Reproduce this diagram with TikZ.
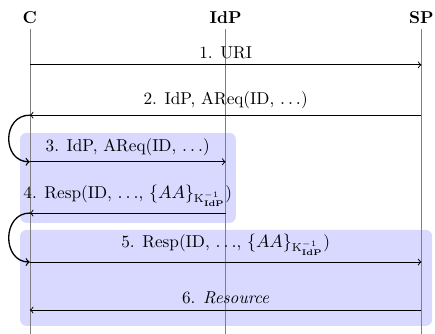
\documentclass[tikz,border=0pt]{standalone}
\usepackage{amsmath}

\tikzset{
  actor/.style={font=\bfseries},
  lifeline/.style={gray, thin},
  msg/.style={->, semithick},
  loopback/.style={->, thick},
  phase/.style={fill=blue!15, rounded corners=4pt}
}
\newcommand{\kidp}{\ensuremath{\{AA\}_{\mathrm{K}^{-1}_{\mathbf{IdP}}}}}

\begin{document}
\fontsize{10.5}{12.6}\selectfont
\begin{tikzpicture}
\useasboundingbox (-0.64,0) rectangle (8.69,-7.16);

% phases
\fill[phase] (-0.21,-2.85) rectangle (4.42,-4.78);
\fill[phase] (-0.21,-4.93) rectangle (8.63,-6.99);

% actors and lifelines
\node[actor] (C) at (0,-0.37) {C};
\node[actor] (IdP) at (4.2,-0.37) {IdP};
\node[actor] (SP) at (8.4,-0.37) {SP};
\coordinate (Cend) at (0,-7.16);
\coordinate (IdPend) at (4.2,-7.16);
\coordinate (SPend) at (8.4,-7.16);
\draw[lifeline] (C.south) -- (Cend);
\draw[lifeline] (IdP.south) -- (IdPend);
\draw[lifeline] (SP.south) -- (SPend);

% message points on each lifeline
\foreach \i/\y in {1/-1.39, 2/-2.47, 3/-3.47, 4/-4.57, 5/-5.62, 6/-6.65}{
  \coordinate (c\i) at (0,\y);
  \coordinate (i\i) at (4.2,\y);
  \coordinate (s\i) at (8.4,\y);
}

% messages
\draw[msg] (c1) --node[above]{1. URI}(s1);
\draw[msg] (s2) --node[above]{2. IdP, AReq(ID, $\ldots$)}(c2);
\draw[msg] (c3) --node[above]{3. IdP, AReq(ID, $\ldots$)}(i3);
\draw[msg] (i4) --node[above]{4. Resp(ID, $\ldots$, \kidp)}(c4);
\draw[msg] (c5) --node[above]{5. Resp(ID, $\ldots$, \kidp)}(s5);
\draw[msg] (s6) --node[above]{6. \emph{Resource}}(c6);

% redirects through the client
\draw[loopback] (c2) .. controls +(-0.6,0) and +(-0.6,0) .. (c3);
\draw[loopback] (c4) .. controls +(-0.6,0) and +(-0.6,0) .. (c5);

\end{tikzpicture}
\end{document}
